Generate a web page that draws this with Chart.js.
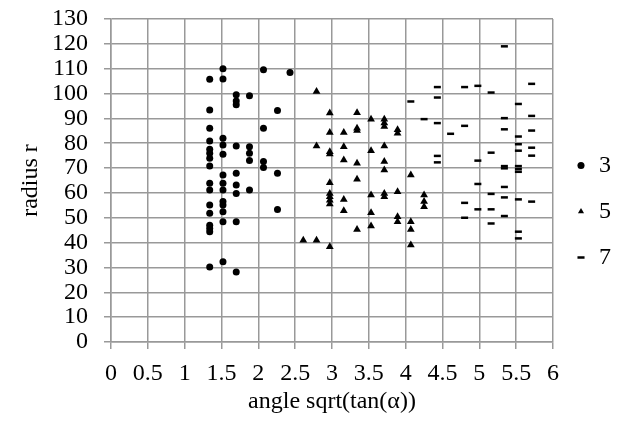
<!DOCTYPE html>
<html lang="en">
<head>
<meta charset="UTF-8" />
<title>radius r vs angle</title>
<script src="https://cdn.jsdelivr.net/npm/chart.js"></script>
<style>
  html, body { margin: 0; padding: 0; background: #fff; }
  #chart { display: block; }
</style>
</head>
<body>
<canvas id="chart" width="624" height="423"></canvas>
<script>
  // series "3": angle columns and the radii read at each column
  const angles3 = [1.34, 1.52, 1.70, 1.88, 2.07, 2.26, 2.43];
  const radii3 = [
    [105.8, 93.4, 86, 80.9, 77.6, 76, 74, 70.8, 63.9, 61.2, 55.1, 51.8, 47, 45.7, 44.4, 30.2],
    [110, 105.9, 82, 79.3, 75.6, 67.2, 63.9, 61.2, 56.5, 55.1, 52.4, 48.4, 32.3],
    [99.5, 97, 95.5, 78.9, 67.9, 63.2, 59.8, 48.4, 28.2],
    [99.1, 78.6, 76, 73, 61.2],
    [109.6, 86, 72.6, 70.2],
    [93.2, 67.9, 53.3],
    [108.5]
  ];

  // series "5"
  const angles5 = [2.61, 2.79, 2.97, 3.16, 3.34, 3.53, 3.71, 3.89, 4.07, 4.25];
  const radii5 = [
    [41],
    [100.8, 78.9, 41],
    [92.2, 84.3, 76.6, 75.7, 64.1, 59.8, 58.5, 57.1, 55.5, 38.3],
    [84.3, 78.6, 73.3, 57.4, 52.8],
    [92.3, 86, 85.1, 71.9, 65.5, 45.3],
    [89.7, 77, 59.2, 52, 46.7],
    [89.7, 88.1, 86.7, 78.9, 72.6, 69.2, 59.8, 58.5],
    [85.4, 84, 60.5, 50.4, 48.4],
    [67.2, 48.4, 45.3, 39],
    [59.2, 56.5, 54.4]
  ];

  // series "7"
  const angles7 = [4.07, 4.25, 4.43, 4.61, 4.80, 4.98, 5.16, 5.34, 5.53, 5.71];
  const radii7 = [
    [96.8],
    [89.7],
    [102.6, 98.4, 88.1, 74.9, 72.3],
    [83.8],
    [102.6, 87, 56, 50],
    [103.1, 73, 63.6, 53.4],
    [100.4, 76.2, 59.6, 53.4, 47.7],
    [119, 90.1, 85.6, 70.8, 69.9, 62.4, 58.2, 50.7],
    [95.8, 82.7, 79.6, 77, 70.8, 69.6, 68.5, 57.4, 44.4, 41.7],
    [103.9, 91, 85.1, 78.2, 75, 56.5]
  ];

  const seriesLabels = ['3', '5', '7'];

  function toPoints(angles, radii) {
    const pts = [];
    angles.forEach((a, i) => {
      radii[i].forEach(r => pts.push({ x: a, y: r }));
    });
    return pts;
  }

  const serif = "'Liberation Serif', 'Times New Roman', serif";
  const tickFont = { family: serif, size: 24 };
  const titleFont = { family: serif, size: 24 };
  const gridColor = '#999999';

  const ctx = document.getElementById('chart').getContext('2d');

  new Chart(ctx, {
    type: 'scatter',
    data: {
      datasets: [
        {
          label: seriesLabels[0],
          data: toPoints(angles3, radii3),
          pointStyle: 'circle',
          pointRadius: 3.5,
          backgroundColor: '#000',
          borderColor: '#000',
          borderWidth: 0
        },
        {
          label: seriesLabels[1],
          data: toPoints(angles5, radii5),
          pointStyle: 'triangle',
          pointRadius: 4.5,
          backgroundColor: '#000',
          borderColor: '#000',
          borderWidth: 0
        },
        {
          label: seriesLabels[2],
          data: toPoints(angles7, radii7),
          pointStyle: 'line',
          pointRadius: 3.5,
          backgroundColor: '#000',
          borderColor: '#000',
          borderWidth: 2.5
        }
      ]
    },
    options: {
      responsive: false,
      animation: false,
      devicePixelRatio: 1,
      layout: { padding: { right: 3 } },
      scales: {
        x: {
          type: 'linear',
          min: 0,
          max: 6,
          ticks: {
            stepSize: 0.5,
            autoSkip: false,
            maxRotation: 0,
            color: '#000',
            font: tickFont,
            padding: 10,
            callback: (v) => String(v)
          },
          grid: { color: gridColor, lineWidth: 1.5, tickLength: 7, tickColor: gridColor },
          border: { color: gridColor, width: 1.5 },
          title: {
            display: true,
            text: 'angle sqrt(tan(α))',
            color: '#000',
            font: titleFont,
            padding: { top: 0, bottom: 7 }
          },
          afterFit: (scale) => { scale.height = 81; }
        },
        y: {
          min: 0,
          max: 130,
          ticks: {
            stepSize: 10,
            autoSkip: false,
            color: '#000',
            font: tickFont,
            padding: 16
          },
          grid: { color: gridColor, lineWidth: 1.5, tickLength: 7, tickColor: gridColor },
          border: { color: gridColor, width: 1.5 },
          title: {
            display: true,
            text: 'radius r',
            color: '#000',
            font: titleFont,
            padding: { top: 16, bottom: 0 }
          },
          afterFit: (scale) => { scale.width = 111; scale.paddingTop = 19; }
        }
      },
      plugins: {
        legend: {
          position: 'right',
          labels: {
            usePointStyle: true,
            boxWidth: 12,
            boxHeight: 5,
            padding: 22,
            color: '#000',
            font: tickFont
          }
        },
        tooltip: { enabled: false }
      }
    }
  });
</script>
</body>
</html>
